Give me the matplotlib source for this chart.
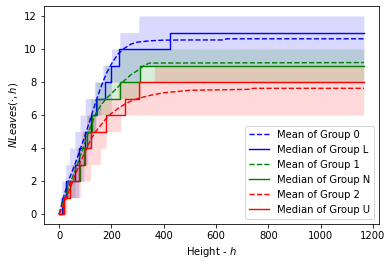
import matplotlib
matplotlib.use("Agg")
import matplotlib.pyplot as plt
import numpy as np

X_END = 1165

# Median step curves: x positions where the value changes, and the new value
med0_x = [0, 10, 26, 62, 75, 100, 122, 140, 175, 197, 229, 422, X_END]
med0_y = [0, 1, 2, 3, 4, 5, 6, 7, 8, 9, 10, 11, 11]
med1_x = [0, 15, 30, 78, 95, 108, 125, 145, 233, 310, X_END]
med1_y = [0, 1, 2, 3, 4, 5, 6, 7, 8, 9, 9]
med2_x = [0, 17, 43, 75, 100, 122, 181, 252, 306, X_END]
med2_y = [0, 1, 2, 3, 4, 5, 6, 7, 8, 8]

# Mean curves
mean0_x = [0, 20, 40, 60, 80, 100, 120, 140, 160, 180, 200, 225, 250, 275, 300, 350, 400, 500, 630, 640, X_END]
mean0_y = [0, 1.2, 2.2, 3.0, 3.9, 4.8, 5.8, 6.8, 7.7, 8.5, 9.1, 9.7, 10.05, 10.3, 10.42, 10.5, 10.54, 10.55, 10.55, 10.62, 10.62]
mean1_x = [0, 20, 40, 60, 80, 100, 120, 140, 160, 180, 200, 225, 250, 275, 300, 325, 345, X_END]
mean1_y = [0, 0.9, 1.8, 2.6, 3.5, 4.4, 5.3, 6.1, 6.6, 7.0, 7.3, 7.7, 8.1, 8.45, 8.7, 9.0, 9.15, 9.18]
mean2_x = [0, 20, 40, 60, 80, 100, 120, 140, 160, 180, 200, 225, 250, 275, 300, 350, 400, 500, 732, 742, X_END]
mean2_y = [0, 0.7, 1.5, 2.3, 3.1, 3.8, 4.5, 5.0, 5.4, 5.8, 6.1, 6.4, 6.65, 6.85, 7.0, 7.2, 7.35, 7.5, 7.56, 7.62, 7.62]

# Min / max bands (step curves)
lo0_x = [0, 20, 75, 95, 110, 125, 140, 160, 200, 310, X_END]
lo0_y = [0, 1, 2, 3, 4, 5, 6, 7, 8, 9, 9]
hi0_x = [0, 3, 10, 25, 40, 60, 80, 100, 135, 167, 200, 232, 304, X_END]
hi0_y = [0, 1, 2, 3, 4, 5, 6, 7, 8, 9, 10, 11, 12, 12]
lo1_x = [0, 25, 60, 80, 100, 120, 140, 200, 313, X_END]
lo1_y = [0, 1, 2, 3, 4, 5, 6, 7, 8, 8]
hi1_x = [0, 8, 20, 50, 70, 90, 105, 120, 140, 175, 230, X_END]
hi1_y = [0, 1, 2, 3, 4, 5, 6, 7, 8, 9, 10, 10]
lo2_x = [0, 30, 81, 120, 158, 180, 236, X_END]
lo2_y = [0, 1, 2, 3, 4, 5, 6, 6]
hi2_x = [0, 10, 25, 45, 65, 85, 105, 150, 225, 364, X_END]
hi2_y = [0, 1, 2, 3, 4, 5, 6, 7, 8, 9, 9]

labels = ["Mean of Group 0", "Median of Group L", "Mean of Group 1",
          "Median of Group N", "Mean of Group 2", "Median of Group U"]
colors = ["blue", "green", "red"]


def step_on(xs, ys, grid):
    idx = np.searchsorted(xs, grid, side="right") - 1
    return np.asarray(ys, dtype=float)[idx]


fig = plt.figure(figsize=(392 / 72, 266 / 72), dpi=72)
ax = fig.add_axes([0.112, 0.158, 0.855, 0.819])

grid = np.linspace(0, X_END, 2400)
bands = [(lo0_x, lo0_y, hi0_x, hi0_y), (lo1_x, lo1_y, hi1_x, hi1_y), (lo2_x, lo2_y, hi2_x, hi2_y)]
for (lx, ly, hx, hy), c in zip(bands, colors):
    ax.fill_between(grid, step_on(lx, ly, grid), step_on(hx, hy, grid),
                    color=c, alpha=0.15, linewidth=0)

means = [(mean0_x, mean0_y), (mean1_x, mean1_y), (mean2_x, mean2_y)]
meds = [(med0_x, med0_y), (med1_x, med1_y), (med2_x, med2_y)]
for i, c in enumerate(colors):
    ax.plot(means[i][0], means[i][1], "--", color=c, lw=1.4, label=labels[2 * i])
    ax.plot(meds[i][0], meds[i][1], "-", color=c, lw=1.4, drawstyle="steps-post",
            label=labels[2 * i + 1])

ax.margins(x=0.05, y=0.05)
ax.set_xticks([0, 200, 400, 600, 800, 1000, 1200])
ax.set_yticks([0, 2, 4, 6, 8, 10, 12])
ax.set_xlabel("Height - $h$")
ax.set_ylabel(r"$NLeaves(\cdot, h)$")
ax.legend(loc="lower right")

fig.savefig("out.png", dpi=72)
